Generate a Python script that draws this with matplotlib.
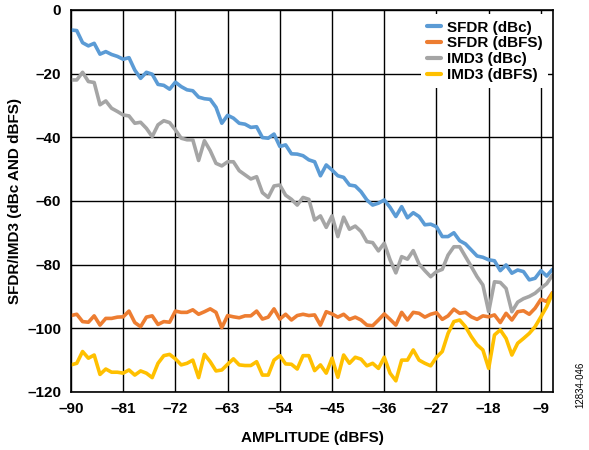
import numpy as np
import matplotlib
matplotlib.use("Agg")
import matplotlib.pyplot as plt

plt.rcParams["font.family"] = ["Liberation Sans", "DejaVu Sans"]
plt.rcParams["font.weight"] = "bold"

# amplitude sweep, 1 dB steps
amplitude = np.arange(-90, -6, 1)

sfdr_dbc = [-6.3, -6.5, -10.3, -11.3, -10.5, -13.9, -13.1, -14.0, -14.6, -15.5,
            -15.0, -18.9, -21.5, -19.6, -20.2, -23.4, -23.7, -24.9, -22.7, -24.1,
            -25.1, -25.4, -27.4, -27.9, -28.1, -30.6, -35.6, -33.1, -34.0, -35.6,
            -35.9, -36.9, -36.7, -40.1, -40.3, -39.0, -42.9, -42.4, -45.2, -45.3,
            -45.8, -47.1, -47.7, -52.1, -48.7, -50.3, -52.1, -52.6, -55.0, -55.3,
            -57.1, -59.7, -61.3, -60.7, -59.7, -62.0, -64.9, -61.8, -65.3, -63.7,
            -64.9, -67.5, -67.3, -68.1, -71.2, -71.2, -70.0, -72.5, -73.5, -75.4,
            -77.3, -77.7, -78.5, -78.8, -81.9, -80.1, -82.7, -81.7, -82.2, -84.8,
            -84.3, -81.9, -83.6, -81.5]

sfdr_dbfs = [-96.0, -95.6, -97.9, -98.1, -96.1, -99.0, -96.9, -96.9, -96.5, -96.4,
             -94.6, -98.2, -99.5, -96.5, -96.1, -98.8, -97.9, -98.1, -94.6, -95.0,
             -95.0, -94.2, -95.6, -94.8, -93.9, -95.0, -99.8, -96.0, -96.4, -96.7,
             -96.1, -96.1, -94.6, -97.1, -96.5, -93.9, -97.1, -95.6, -97.4, -96.0,
             -95.6, -96.0, -95.8, -99.0, -94.8, -95.5, -96.5, -95.6, -97.2, -96.5,
             -97.4, -99.0, -99.2, -97.4, -95.5, -97.2, -99.0, -95.0, -97.4, -95.0,
             -95.3, -96.5, -95.6, -95.1, -97.2, -96.1, -94.0, -95.3, -95.0, -96.4,
             -97.2, -96.1, -96.4, -95.8, -98.2, -95.3, -97.4, -94.8, -94.5, -95.6,
             -93.7, -90.9, -91.6, -88.8]

imd3_dbc = [-22.0, -22.0, -19.6, -22.5, -22.8, -29.8, -28.6, -30.9, -31.9, -33.0,
            -33.3, -35.6, -35.3, -37.2, -39.8, -36.1, -34.8, -35.4, -37.7, -40.3,
            -40.8, -40.8, -47.3, -41.1, -44.2, -48.2, -49.0, -47.7, -47.7, -50.5,
            -51.8, -53.1, -52.4, -57.4, -58.9, -55.3, -55.0, -58.2, -59.5, -61.3,
            -58.9, -59.5, -66.0, -64.7, -68.3, -64.7, -71.2, -65.1, -68.9, -67.9,
            -69.6, -72.8, -73.1, -75.7, -73.3, -78.5, -82.6, -77.5, -78.3, -75.6,
            -79.8, -81.9, -83.8, -82.2, -81.5, -77.0, -74.4, -74.4, -77.5, -80.6,
            -83.8, -86.4, -94.8, -85.4, -85.6, -87.5, -94.8, -91.8, -90.7, -90.0,
            -89.0, -87.4, -86.0, -83.3]

imd3_dbfs = [-111.5, -111.0, -107.3, -109.4, -108.4, -114.5, -112.8, -113.8, -113.8, -114.1,
             -113.1, -114.7, -113.4, -114.1, -115.5, -111.0, -108.6, -108.2, -109.6, -111.5,
             -111.0, -110.0, -115.5, -108.2, -110.5, -113.4, -113.1, -111.3, -109.6, -111.5,
             -111.7, -111.7, -110.5, -114.7, -114.7, -110.0, -108.6, -111.2, -111.3, -112.8,
             -108.6, -108.6, -113.3, -111.5, -114.1, -109.4, -115.4, -108.4, -111.0, -109.1,
             -109.7, -111.8, -111.0, -112.6, -109.1, -114.1, -116.5, -110.0, -110.0, -106.8,
             -110.0, -111.0, -111.8, -109.1, -107.3, -101.6, -97.9, -97.4, -99.5, -102.6,
             -105.2, -106.8, -112.6, -102.1, -100.5, -103.2, -108.4, -104.7, -103.2, -101.6,
             -99.5, -96.4, -93.2, -89.0]

labels = ["SFDR (dBc)", "SFDR (dBFS)", "IMD3 (dBc)", "IMD3 (dBFS)"]
colors = ["#5B9BD5", "#ED7D31", "#A5A5A5", "#FFC000"]
x_ticks = np.arange(-90, -8, 9)
y_ticks = np.arange(-120, 1, 20)

fig = plt.figure(figsize=(5.89, 4.5), dpi=100)
ax = fig.add_axes([0.1205, 0.129, 0.8185, 0.849])

for y, lab, c in zip([sfdr_dbc, sfdr_dbfs, imd3_dbc, imd3_dbfs], labels, colors):
    ax.plot(amplitude, y, color=c, lw=2.6, label=lab,
            solid_joinstyle="round", solid_capstyle="round")

ax.set_xlim(-90, -6.9)
ax.set_ylim(-120, 0)
ax.set_xticks(x_ticks)
ax.set_yticks(y_ticks)
ax.set_xticklabels([str(t).replace("-", "\u2013") for t in x_ticks])
ax.set_yticklabels([str(t).replace("-", "\u2013") for t in y_ticks])
ax.tick_params(length=0, labelsize=11)
ax.tick_params(axis="y", pad=7)
ax.tick_params(axis="x", pad=7)
ax.grid(True, color="black", lw=1.0)
ax.set_axisbelow(True)
for s in ax.spines.values():
    s.set_color("black")
    s.set_linewidth(1.2)

ax.set_xlabel("AMPLITUDE (dBFS)", fontsize=11, fontweight="bold", labelpad=11)
ax.set_ylabel("SFDR/IMD3 (dBc AND dBFS)", fontsize=11, fontweight="bold", labelpad=4)

leg = ax.legend(loc="upper right", frameon=True,
                fontsize=11, handlelength=0.9, handletextpad=0.4,
                labelspacing=0.12, borderpad=0.4, borderaxespad=0.3)
leg.get_frame().set_facecolor("white")
leg.get_frame().set_edgecolor("none")
leg.get_frame().set_alpha(1.0)
leg.get_frame().set_boxstyle("square", pad=0)
for h in leg.get_lines():
    h.set_linewidth(3.0)

fig.text(0.985, 0.145, "12834-046", rotation=90, fontsize=7, fontweight="normal",
         ha="center", va="center")

fig.savefig("out.png", dpi=100)
